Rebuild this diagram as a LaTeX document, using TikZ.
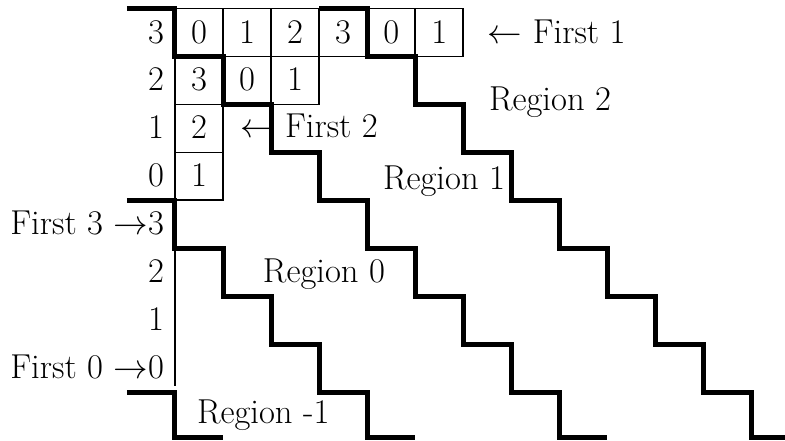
\documentclass[tikz,border=0pt]{standalone}
\begin{document}
\begin{tikzpicture}[x=24.025pt,y=-23.975pt,
  thinln/.style={line width=0.85pt},
  thickln/.style={line width=2.5pt},
  txt/.style={inner sep=0pt,outer sep=0pt,font=\fontsize{17.3}{21}\selectfont}]
\clip (-3.642,-0.1773) rectangle (12.695,8.999);
% boxes, top row
\foreach \k/\d in {0/0,1/1,2/2,3/3,4/0,5/1} {
  \draw[thinln] (\k,0) rectangle (\k+1,1);
  \node[txt,anchor=base] (ba\k) at (\k+0.5,0.72) {\d};
}
% second row
\foreach \k/\d in {0/3,1/0,2/1} {
  \draw[thinln] (\k,1) rectangle (\k+1,2);
  \node[txt,anchor=base] (bb\k) at (\k+0.5,1.72) {\d};
}
% third and fourth rows
\draw[thinln] (0,2) rectangle (1,3);
\node[txt,anchor=base] (bc0) at (0.5,2.72) {2};
\draw[thinln] (0,3) rectangle (1,4);
\node[txt,anchor=base] (bd0) at (0.5,3.72) {1};
% axis line below
\draw[thinln] (0,4) -- (0,7.873);
% row labels
\foreach \i/\d in {0/3,1/2,2/1,3/0,4/3,5/2,6/1,7/0}
  \node[txt,anchor=base east] (r\i) at (-0.229,\i+0.72) {\d};
\node[txt,anchor=base east] (f3) at (r4.base west) {First 3 $\rightarrow$};
\node[txt,anchor=base east] (f0) at (r7.base west) {First 0 $\rightarrow$};
% staircases
\draw[thickln] (-1,0) -- (0,0) -- (0,1) -- (1,1) -- (1,2) -- (2,2) -- (2,3) -- (3,3)
  -- (3,4) -- (4,4) -- (4,5) -- (5,5) -- (5,6) -- (6,6) -- (6,7) -- (7,7) -- (7,8)
  -- (8,8) -- (8,8.947) -- (9,8.947);
\draw[thickln] (3,0) -- (4,0) -- (4,1) -- (5,1) -- (5,2) -- (6,2) -- (6,3) -- (7,3)
  -- (7,4) -- (8,4) -- (8,5) -- (9,5) -- (9,6) -- (10,6) -- (10,7) -- (11,7) -- (11,8)
  -- (12,8) -- (12,8.947) -- (13,8.947);
\draw[thickln] (-1,4) -- (0,4) -- (0,5) -- (1,5) -- (1,6) -- (2,6) -- (2,7) -- (3,7)
  -- (3,8) -- (4,8) -- (4,8.947) -- (5,8.947);
\draw[thickln] (-1,8) -- (0,8) -- (0,8.947) -- (1,8.947);
% labels
\node[txt,anchor=base west] (first1) at (6.51,0.72) {$\leftarrow$ First 1};
\node[txt,anchor=base west] (first2) at (1.353,2.70) {$\leftarrow$ First 2};
\node[txt,anchor=base west] (reg2) at (6.535,2.117) {Region 2};
\node[txt,anchor=base west] (reg1) at (4.329,3.785) {Region 1};
\node[txt,anchor=base west] (reg0) at (1.831,5.704) {Region 0};
\node[txt,anchor=base west] (regm1) at (0.458,8.645) {Region -1};
\end{tikzpicture}
\end{document}
